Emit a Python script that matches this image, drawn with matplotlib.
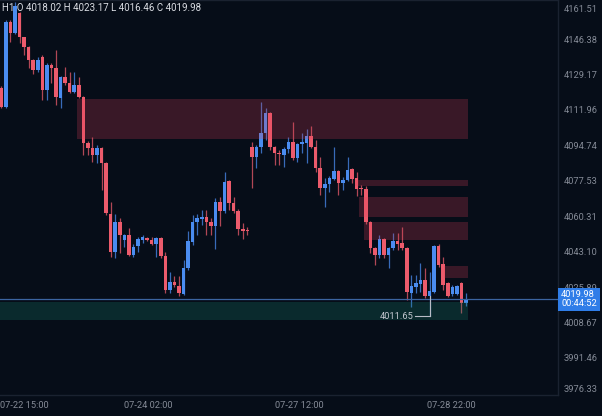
import matplotlib
matplotlib.use("Agg")
import matplotlib.pyplot as plt
import matplotlib.transforms as mtransforms
from matplotlib.patches import Rectangle
import numpy as np

plt.rcParams['font.family'] = ['Roboto', 'DejaVu Sans']

# H1 candles, oldest first
opens = [4122.6, 4113.4, 4154.7, 4149.4, 4159.1, 4147.4, 4142.6, 4136.2, 4131.4, 4137.7,
         4121.6, 4133.8, 4132.3, 4117.8, 4128.0, 4125.1, 4120.7, 4124.1, 4118.3, 4095.9,
         4093.5, 4090.1, 4093.5, 4086.2, 4061.4, 4042.9, 4057.5, 4048.7, 4051.2, 4041.4,
         4045.8, 4048.7, 4049.7, 4048.7, 4046.8, 4049.7, 4041.0, 4024.4, 4028.3, 4026.4,
         4022.5, 4035.1, 4047.8, 4057.5, 4058.9, 4059.9, 4057.5, 4055.5, 4067.2, 4062.8,
         4077.4, 4066.7, 4062.8, 4054.1, 4053.6, 4093.9, 4089.1, 4093.9, 4100.7, 4110.5,
         4093.9, 4091.0, 4090.1, 4093.0, 4096.4, 4088.6, 4095.4, 4095.9, 4099.3, 4093.9,
         4083.7, 4074.0, 4076.0, 4078.4, 4082.3, 4076.4, 4077.9, 4083.2, 4078.9, 4074.0,
         4073.5, 4057.5, 4044.8, 4041.4, 4049.2, 4041.4, 4044.8, 4048.2, 4047.3, 4044.8,
         4023.0, 4025.9, 4027.3, 4029.3, 4021.5, 4023.5, 4045.8, 4037.1, 4027.8, 4022.5,
         4022.5, 4027.8, 4018.02]
highs = [4123.6, 4155.7, 4155.7, 4164.4, 4159.6, 4147.6, 4142.8, 4136.7, 4137.7, 4138.7,
         4134.8, 4134.8, 4141.1, 4128.5, 4132.8, 4130.4, 4130.4, 4128.0, 4118.8, 4096.9,
         4098.8, 4094.9, 4094.0, 4086.7, 4067.2, 4061.4, 4059.4, 4051.7, 4054.6, 4046.8,
         4050.2, 4051.2, 4050.2, 4050.2, 4050.2, 4050.2, 4042.9, 4033.2, 4031.2, 4031.2,
         4039.0, 4053.1, 4060.9, 4061.4, 4063.3, 4063.3, 4059.4, 4069.1, 4069.6, 4081.8,
         4077.9, 4069.6, 4063.8, 4057.0, 4055.0, 4096.4, 4094.9, 4115.8, 4113.0, 4111.0,
         4094.4, 4092.5, 4093.9, 4098.8, 4106.1, 4095.9, 4100.7, 4102.7, 4104.1, 4097.3,
         4089.1, 4078.9, 4079.8, 4093.9, 4082.8, 4079.4, 4089.1, 4083.7, 4081.8, 4075.5,
         4075.0, 4058.0, 4045.3, 4051.2, 4049.7, 4045.3, 4052.1, 4052.1, 4055.0, 4045.3,
         4031.7, 4031.7, 4037.5, 4035.1, 4033.2, 4046.3, 4046.8, 4040.5, 4028.3, 4026.8,
         4026.8, 4028.3, 4023.17]
lows = [4112.9, 4112.9, 4145.0, 4149.0, 4144.5, 4138.7, 4132.3, 4129.4, 4130.4, 4116.8,
        4116.8, 4125.1, 4114.4, 4112.9, 4124.1, 4120.2, 4120.2, 4117.8, 4090.1, 4090.1,
        4086.6, 4086.2, 4073.0, 4060.9, 4040.5, 4040.0, 4042.4, 4045.3, 4040.9, 4040.5,
        4042.9, 4047.3, 4048.2, 4046.3, 4040.5, 4040.0, 4023.0, 4023.0, 4025.9, 4021.5,
        4022.0, 4034.1, 4046.3, 4051.2, 4056.0, 4051.2, 4051.2, 4044.4, 4055.5, 4061.9,
        4063.3, 4061.9, 4051.2, 4049.2, 4051.2, 4074.0, 4083.7, 4091.0, 4097.3, 4092.5,
        4085.2, 4085.2, 4084.2, 4091.0, 4087.6, 4086.6, 4091.0, 4086.2, 4093.5, 4081.8,
        4070.6, 4064.8, 4072.1, 4077.9, 4070.6, 4073.0, 4077.4, 4076.4, 4070.1, 4070.6,
        4056.5, 4042.4, 4036.6, 4040.0, 4040.0, 4035.1, 4043.9, 4043.9, 4043.9, 4019.6,
        4016.2, 4023.0, 4023.5, 4020.5, 4011.65, 4023.0, 4035.6, 4024.4, 4021.0, 4021.5,
        4022.0, 4013.3, 4016.46]
closes = [4113.4, 4154.7, 4149.4, 4162.5, 4147.4, 4142.6, 4136.2, 4131.4, 4136.2, 4121.6,
          4133.8, 4132.3, 4118.3, 4128.0, 4125.1, 4120.7, 4124.1, 4118.3, 4095.9, 4093.5,
          4090.1, 4093.5, 4086.2, 4061.9, 4042.9, 4057.5, 4051.2, 4051.2, 4041.4, 4045.3,
          4049.2, 4050.2, 4048.7, 4046.8, 4049.7, 4041.0, 4024.4, 4028.3, 4026.8, 4023.0,
          4035.1, 4048.2, 4057.5, 4059.4, 4059.9, 4057.5, 4055.5, 4067.2, 4062.8, 4076.9,
          4066.7, 4062.8, 4054.1, 4053.1, 4053.1, 4089.1, 4093.9, 4100.7, 4110.5, 4093.9,
          4091.0, 4090.5, 4093.0, 4096.4, 4088.6, 4095.4, 4096.4, 4099.3, 4093.9, 4083.7,
          4074.0, 4076.0, 4078.9, 4082.3, 4076.4, 4077.9, 4082.8, 4078.4, 4073.5, 4073.5,
          4057.5, 4044.8, 4041.4, 4049.2, 4041.4, 4044.8, 4048.2, 4046.8, 4044.8, 4023.5,
          4026.4, 4027.8, 4029.3, 4021.5, 4023.9, 4045.8, 4036.6, 4026.8, 4021.5, 4025.9,
          4026.4, 4018.1, 4019.98]

# supply zones (red) and the demand zone (green), in candle index / price
zone_start = [16.6, 77.6, 78.6, 79.6, 97.2]
zone_end = [102.4, 102.4, 102.4, 102.4, 102.4]
zone_low = [4097.8, 4075.0, 4059.9, 4048.7, 4030.3]
zone_high = [4117.3, 4077.9, 4069.6, 4057.5, 4036.1]
demand_start, demand_end = -0.5, 102.4
demand_low, demand_high = 4009.8, 4018.6

yticks = [4161.51, 4146.38, 4129.17, 4111.96, 4094.74, 4077.53,
          4060.31, 4043.10, 4025.89, 4008.67, 3991.46, 3976.33]
xtick_pos = [-0.3, 32.3, 65.5, 98.7]
xtick_labels = ['07-22 15:00', '07-24 02:00', '07-27 12:00', '07-28 22:00']
countdown = '00:44:52'

BG = '#060d18'
RED = '#ec5b6c'
BLUE = '#4a8cf0'
GRID = '#1a2230'
TXT = '#858b97'

fig = plt.figure(figsize=(6.02, 4.16), dpi=100, facecolor=BG)
ax = fig.add_axes([0, 21 / 416, 558 / 602, 395 / 416])
ax.set_facecolor(BG)

o = np.array(opens)
c = np.array(closes)
idx = np.arange(len(o))
up = c >= o
colors = np.where(up, BLUE, RED)
body_low = np.minimum(o, c)
body_h = np.maximum(np.abs(c - o), 0.6)

ax.vlines(idx, lows, highs, colors=colors, linewidth=0.9, alpha=0.75, zorder=2)
ax.bar(idx, body_h, bottom=body_low, width=0.78, color=colors, linewidth=0, zorder=3)

# zones sit over the candles, semi transparent
for s, e, lo, hi in zip(zone_start, zone_end, zone_low, zone_high):
    ax.add_patch(Rectangle((s, lo), e - s, hi - lo, facecolor='#e0405a',
                           alpha=0.235, linewidth=0, zorder=4))
ax.add_patch(Rectangle((demand_start, demand_low), demand_end - demand_start,
                       demand_high - demand_low, facecolor='#1a8a74',
                       alpha=0.24, linewidth=0, zorder=4))

# last price line + label
last = closes[-1]
ax.axhline(last, color='#3b64a0', linewidth=0.9, zorder=5)
trans = mtransforms.blended_transform_factory(ax.transAxes, ax.transData)
ax.text(1.0 + 3 / 558, last, f"{last:.2f}\n{countdown}", transform=trans,
        ha='left', va='center', fontsize=6.7, color='white', linespacing=0.95,
        bbox=dict(boxstyle='square,pad=0.3', fc='#2f7de8', ec='none'),
        clip_on=False, zorder=10)

# lowest low marker
low_i = int(np.argmin(lows))
low_v = lows[low_i]
ax.plot([low_i, low_i], [body_low[low_i], low_v], color='#b8bcc6', lw=0.8, zorder=6)
ax.plot([low_i - 3.1, low_i], [low_v, low_v], color='#b8bcc6', lw=0.8, zorder=6)
ax.text(low_i - 3.5, low_v, f"{low_v:.2f}", ha='right', va='center',
        fontsize=6.7, color='#c4c8d0', zorder=6)

ax.set_xlim(-0.1, 122.2)
ax.set_ylim(3973.4, 4165.4)

ax.yaxis.tick_right()
ax.set_yticks(yticks)
ax.set_yticklabels([f"{v:.2f}" for v in yticks])
ax.set_xticks(xtick_pos)
ax.set_xticklabels(xtick_labels)
ax.get_xticklabels()[0].set_ha('left')
ax.tick_params(axis='y', length=0, pad=4, labelsize=6.7, labelcolor=TXT)
ax.tick_params(axis='x', length=0, pad=4, labelsize=6.7, labelcolor=TXT)

ax.spines['left'].set_visible(False)
for s in ['right', 'bottom', 'top']:
    ax.spines[s].set_color(GRID)
    ax.spines[s].set_linewidth(1)

# OHLC header
ohlc = f"H1 O {opens[-1]:.2f} H {highs[-1]:.2f} L {lows[-1]:.2f} C {closes[-1]:.2f}"
fig.text(2 / 602, 1 - 8 / 416, ohlc, fontsize=7, color='#d9dce2', va='center', zorder=20)

fig.savefig('out.png', dpi=100, facecolor=BG)
